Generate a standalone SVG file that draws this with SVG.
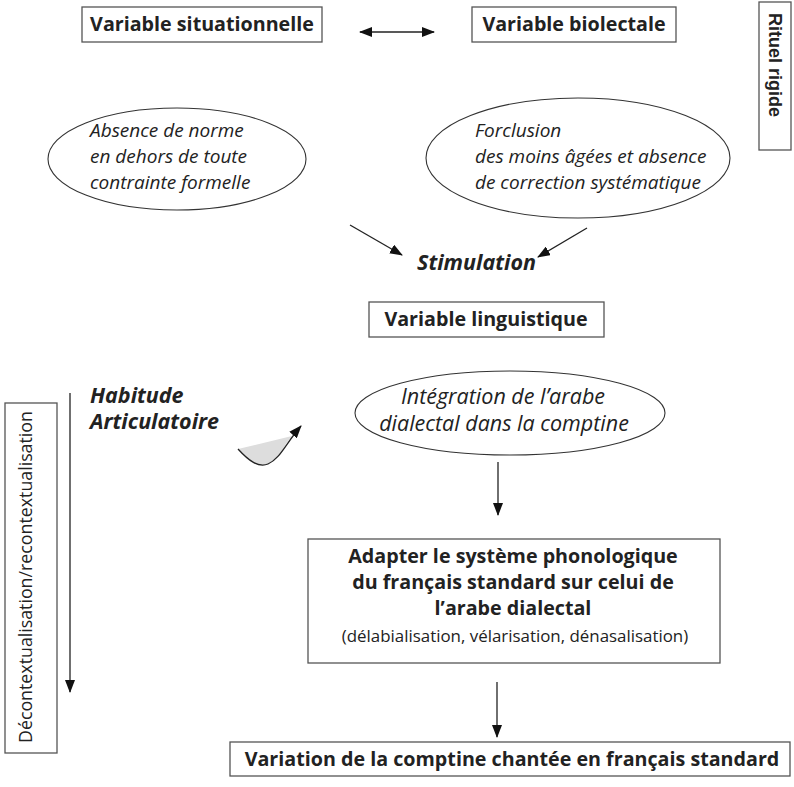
<svg xmlns="http://www.w3.org/2000/svg" width="794" height="787" viewBox="0 0 794 787">
<style>
.box{fill:#fff;stroke:#555;stroke-width:1.3}
.ell{fill:#fff;stroke:#333;stroke-width:1.1}
.b{font-family:"Open Sans","DejaVu Sans",sans-serif;font-weight:bold;font-size:19.7px;fill:#222}
.i{font-family:"Open Sans","DejaVu Sans",sans-serif;font-style:italic;fill:#222}
.bi{font-family:"Open Sans","DejaVu Sans",sans-serif;font-style:italic;font-weight:bold;font-size:21.5px;fill:#222}
.r{font-family:"Open Sans","DejaVu Sans",sans-serif;fill:#222}
.ln{stroke:#222;stroke-width:1.3;fill:none}
</style>
<defs>
<marker id="ah" viewBox="0 0 13 10" refX="12" refY="5" markerWidth="13" markerHeight="10" markerUnits="userSpaceOnUse" orient="auto-start-reverse">
<path d="M0,0 L13,5 L0,10 Z" fill="#111"/>
</marker>
</defs>
<g id="n-situationnelle"><rect class="box" x="82" y="7" width="240" height="35"/><text class="b" x="202" y="31" text-anchor="middle">Variable situationnelle</text></g>
<g id="n-biolectale"><rect class="box" x="472" y="7" width="204" height="35"/><text class="b" x="574" y="31" text-anchor="middle">Variable biolectale</text></g>
<g id="n-rituel"><rect class="box" x="759" y="2" width="32" height="148"/><text x="769" y="13" transform="rotate(90 769 13)" style="font-family:'Liberation Sans',Arial,sans-serif;font-weight:bold;font-size:18px;fill:#222">Rituel rigide</text></g>
<g id="n-absence"><ellipse class="ell" cx="177" cy="159" rx="129" ry="51"/><text class="i" style="font-size:19px"><tspan x="90" y="137">Absence de norme</tspan><tspan x="90" y="163">en dehors de toute</tspan><tspan x="90" y="189">contrainte formelle</tspan></text></g>
<g id="n-forclusion"><ellipse class="ell" cx="578" cy="158" rx="152" ry="60"/><text class="i" style="font-size:19px"><tspan x="475" y="137">Forclusion</tspan><tspan x="475" y="163">des moins âgées et absence</tspan><tspan x="475" y="189">de correction systématique</tspan></text></g>
<g id="n-stimulation"><text class="bi" x="417" y="270">Stimulation</text></g>
<g id="n-linguistique"><rect class="box" x="369" y="302" width="235" height="35"/><text class="b" x="486" y="326" text-anchor="middle">Variable linguistique</text></g>
<g id="n-habitude"><text class="bi"><tspan x="90" y="403">Habitude</tspan><tspan x="90" y="429">Articulatoire</tspan></text></g>
<g id="n-integration"><ellipse class="ell" cx="510" cy="413" rx="155" ry="42"/><text class="i" style="font-size:21.5px" text-anchor="middle"><tspan x="503" y="404">Intégration de l’arabe</tspan><tspan x="504" y="431">dialectal dans la comptine</tspan></text></g>
<g id="n-adapter"><rect class="box" x="308" y="539" width="412" height="124"/><text class="b" text-anchor="middle"><tspan x="513" y="563">Adapter le système phonologique</tspan><tspan x="513" y="589">du français standard sur celui de</tspan><tspan x="513" y="615">l’arabe dialectal</tspan></text><text class="r" x="515" y="642" text-anchor="middle" style="font-size:16.9px">(délabialisation, vélarisation, dénasalisation)</text></g>
<g id="n-variation"><rect class="box" x="230" y="742" width="560" height="34"/><text class="b" x="512" y="766" text-anchor="middle">Variation de la comptine chantée en français standard</text></g>
<g id="n-decontext"><rect class="box" x="5" y="403" width="52" height="350"/><text class="r" x="32" y="743" transform="rotate(-90 32 743)" style="font-size:17.8px">Décontextualisation/recontextualisation</text></g>
<g id="connectors">
<line class="ln" x1="360" y1="32" x2="434" y2="32" marker-start="url(#ah)" marker-end="url(#ah)"/>
<line class="ln" x1="350" y1="225" x2="402" y2="255" marker-end="url(#ah)"/>
<line class="ln" x1="587" y1="228" x2="538" y2="257" marker-end="url(#ah)"/>
<line class="ln" x1="70" y1="393" x2="70" y2="692" marker-end="url(#ah)"/>
<path d="M238,449 C248,460 258,468 268,464 C280,459 284,445 292,436" fill="#ddd" stroke="none"/>
<path class="ln" d="M238,449 C248,460 258,468 268,464 C280,459 286,443 301,426" stroke-width="2" marker-end="url(#ah)"/>
<line class="ln" x1="498" y1="462" x2="498" y2="515" marker-end="url(#ah)"/>
<line class="ln" x1="497" y1="682" x2="497" y2="737" marker-end="url(#ah)"/>
</g>
</svg>
